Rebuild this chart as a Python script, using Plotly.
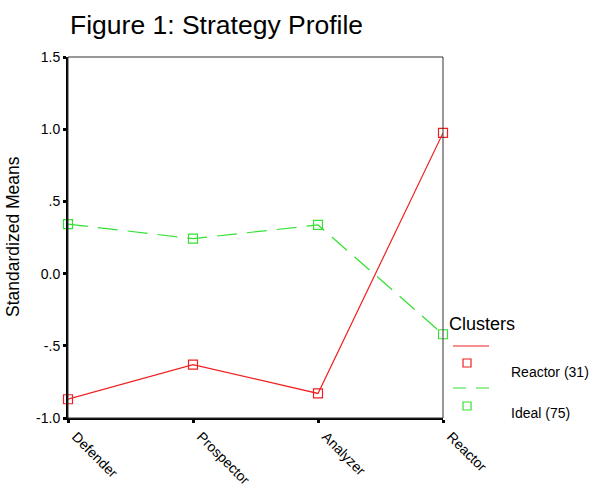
import plotly.graph_objects as go

categories = ["Defender", "Prospector", "Analyzer", "Reactor"]
reactor_vals = [-0.870, -0.630, -0.830, 0.974]
ideal_vals = [0.343, 0.242, 0.337, -0.420]
series_names = ["Reactor (31)", "Ideal (75)"]
ytick_vals = [-1.0, -0.5, 0.0, 0.5, 1.0, 1.5]
ytick_text = ["-1.0", "-.5", "0.0", ".5", "1.0", "1.5"]

RED = "#f02020"
GREEN = "#33e033"
FONT = "Liberation Sans, Arial, sans-serif"

fig = go.Figure()
fig.add_trace(go.Scatter(
    x=categories, y=reactor_vals, mode="lines+markers", name=series_names[0],
    line=dict(color=RED, width=1.2),
    marker=dict(symbol="square-open", size=9, color=RED, line=dict(width=1.2)),
    cliponaxis=False, showlegend=False))
fig.add_trace(go.Scatter(
    x=categories, y=ideal_vals, mode="lines+markers", name=series_names[1],
    line=dict(color=GREEN, width=1.2, dash="20px,10px"),
    marker=dict(symbol="square-open", size=9, color=GREEN, line=dict(width=1.2)),
    cliponaxis=False, showlegend=False))

L, R, T, B = 68, 443, 57, 418
W, H = R - L, B - T
def px(x):
    return (x - L) / W
def py(y):
    return (B - y) / H

shapes = [
    dict(type="rect", xref="paper", yref="paper", x0=0, x1=1, y0=0, y1=1,
         line=dict(color="#333", width=1)),
]
annotations = [
    dict(text="Figure 1: Strategy Profile", xref="paper", yref="paper",
         x=0, y=py(25), xanchor="left", yanchor="middle", showarrow=False,
         font=dict(size=26.5, color="black", family=FONT)),
    dict(text="Standardized Means", xref="paper", yref="paper", x=0, y=py(237),
         xshift=-55, textangle=-90, showarrow=False, xanchor="center", yanchor="middle",
         font=dict(size=17.5, color="black", family=FONT)),
    dict(text="Clusters", xref="paper", yref="paper", x=px(447), y=py(324),
         xanchor="left", yanchor="middle", showarrow=False,
         font=dict(size=18, color="black", family=FONT)),
]
legend_items = [(series_names[0], RED, "solid", 346, 363, 372),
                (series_names[1], GREEN, "dash", 388, 406, 413)]
for name, col, dash, ly, my, ty in legend_items:
    shapes.append(dict(type="line", xref="paper", yref="paper",
                       x0=px(453), x1=px(489), y0=py(ly), y1=py(ly),
                       line=dict(color=col, width=1.2, dash="solid" if dash == "solid" else "13px,10px")))
    shapes.append(dict(type="rect", xref="paper", yref="paper",
                       x0=px(463), x1=px(471), y0=py(my + 4), y1=py(my - 4),
                       line=dict(color=col, width=1.2)))
    annotations.append(dict(text=name, xref="paper", yref="paper", x=px(509), y=py(ty),
                            xanchor="left", yanchor="middle", showarrow=False,
                            font=dict(size=14, color="black", family=FONT)))

fig.update_layout(
    width=596, height=488,
    margin=dict(l=L, r=596 - R, t=T, b=488 - B),
    paper_bgcolor="white", plot_bgcolor="white",
    font=dict(family=FONT, color="black"),
    shapes=shapes, annotations=annotations,
    xaxis=dict(type="category", range=[0, 3], showgrid=False, zeroline=False,
               automargin=False,
               showline=True, linecolor="black", linewidth=2,
               ticks="outside", ticklen=3, tickwidth=3, tickcolor="black",
               tickangle=45, ticklabelshift=8, tickfont=dict(size=14, family=FONT)),
    yaxis=dict(range=[-1.0, 1.5], tickvals=ytick_vals, ticktext=ytick_text,
               automargin=False,
               showgrid=False, zeroline=False, showline=True, linecolor="black", linewidth=2,
               ticks="outside", ticklen=3, tickwidth=3, tickcolor="black",
               tickfont=dict(size=14, family=FONT)),
)
fig.write_html("out.html")
